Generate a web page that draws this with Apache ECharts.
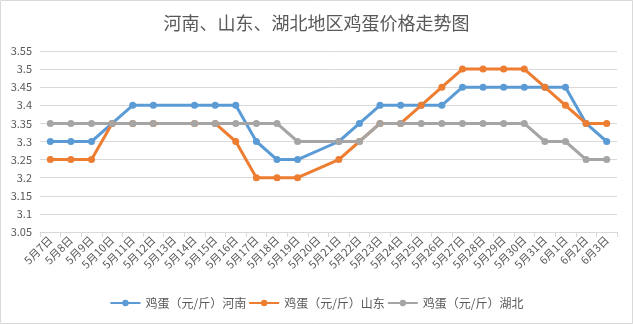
<!DOCTYPE html>
<html>
<head>
<meta charset="utf-8">
<script src="https://cdn.jsdelivr.net/npm/echarts@6/dist/echarts.min.js"></script>
<style>
html,body{margin:0;padding:0;background:#fff;}
#c{width:633px;height:324px;}
</style>
</head>
<body>
<div id="c"></div>
<script>
var categories = ['5月7日','5月8日','5月9日','5月10日','5月11日','5月12日','5月13日','5月14日','5月15日','5月16日','5月17日','5月18日','5月19日','5月20日','5月21日','5月22日','5月23日','5月24日','5月25日','5月26日','5月27日','5月28日','5月29日','5月30日','5月31日','6月1日','6月2日','6月3日'];
var henan    = [3.30,3.30,3.30,3.35,3.40,3.40,null,3.40,3.40,3.40,3.30,3.25,3.25,null,3.30,3.35,3.40,3.40,3.40,3.40,3.45,3.45,3.45,3.45,3.45,3.45,3.35,3.30];
var shandong = [3.25,3.25,3.25,3.35,3.35,3.35,null,3.35,3.35,3.30,3.20,3.20,3.20,null,3.25,3.30,3.35,3.35,3.40,3.45,3.50,3.50,3.50,3.50,3.45,3.40,3.35,3.35];
var hubei    = [3.35,3.35,3.35,3.35,3.35,3.35,null,3.35,3.35,3.35,3.35,3.35,3.30,null,3.30,3.30,3.35,3.35,3.35,3.35,3.35,3.35,3.35,3.35,3.30,3.30,3.25,3.25];
var seriesNames = ['鸡蛋（元/斤）河南','鸡蛋（元/斤）山东','鸡蛋（元/斤）湖北'];
var colors = ['#5B9BD5','#ED7D31','#A5A5A5'];
var yTicks = {min:3.05, max:3.55, interval:0.05};

var font = '"Noto Sans CJK SC", "Microsoft YaHei", sans-serif';
var chart = echarts.init(document.getElementById('c'));
function mk(name, data, color){
  return {
    name: name, type: 'line', data: data, connectNulls: true,
    symbol: 'circle', symbolSize: 7,
    lineStyle: {width: 3, color: color},
    itemStyle: {color: color},
    emphasis: {disabled: true}
  };
}
chart.setOption({
  animation: false,
  backgroundColor: '#fff',
  color: colors,
  graphic: [{type:'rect', shape:{x:0.5,y:0.5,width:632,height:323}, style:{fill:'none', stroke:'#d9d9d9', lineWidth:1}, silent:true}],
  title: {
    text: '河南、山东、湖北地区鸡蛋价格走势图',
    left: 'center', top: 9,
    textStyle: {fontFamily: font, fontSize: 18, fontWeight: 'normal', color: '#595959'}
  },
  legend: {
    bottom: 10, left: 'center',
    itemWidth: 30, itemHeight: 8, itemGap: 2,
    textStyle: {fontFamily: font, fontSize: 12, color: '#595959'},
    data: seriesNames
  },
  grid: {left: 40, right: 16, top: 51, bottom: 92, containLabel: false},
  xAxis: {
    type: 'category', data: categories, boundaryGap: true,
    axisLine: {lineStyle: {color: '#d9d9d9'}},
    axisTick: {show: true, alignWithLabel: false, length: 5, lineStyle: {color: '#d9d9d9'}},
    axisLabel: {interval: 0, rotate: 45, fontFamily: font, fontSize: 11, color: '#595959', margin: 6}
  },
  yAxis: {
    type: 'value', min: yTicks.min, max: yTicks.max, interval: yTicks.interval,
    axisLine: {show: false}, axisTick: {show: false},
    splitLine: {lineStyle: {color: '#d9d9d9'}},
    axisLabel: {fontFamily: font, fontSize: 11, color: '#595959', margin: 8,
      formatter: function(v){ return String(Math.round(v*100)/100); }}
  },
  series: [mk(seriesNames[0], henan, colors[0]), mk(seriesNames[1], shandong, colors[1]), mk(seriesNames[2], hubei, colors[2])]
});
</script>
</body>
</html>
